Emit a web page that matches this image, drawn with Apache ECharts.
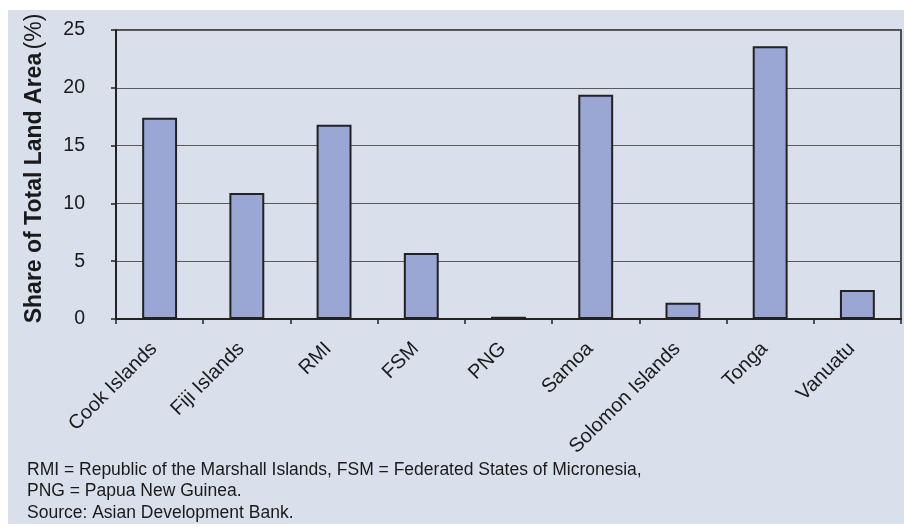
<!DOCTYPE html>
<html>
<head>
<meta charset="utf-8">
<script src="https://cdn.jsdelivr.net/npm/echarts@6/dist/echarts.min.js"></script>
<style>
  html, body { margin: 0; padding: 0; background: #ffffff; }
  #chart { width: 904px; height: 527px; }
</style>
</head>
<body>
<div id="chart"></div>
<script>
// Protected areas as a share of total land area, Pacific economies
const categories = ['Cook Islands', 'Fiji Islands', 'RMI', 'FSM', 'PNG', 'Samoa', 'Solomon Islands', 'Tonga', 'Vanuatu'];
const shareValues = [17.4, 10.9, 16.8, 5.7, 0.2, 19.4, 1.4, 23.6, 2.5];
const yTicks = [0, 5, 10, 15, 20, 25];
const footnoteLines = [
  'RMI = Republic of the Marshall Islands, FSM = Federated States of Micronesia,',
  'PNG = Papua New Guinea.',
  'Source: Asian Development Bank.'
];

const font = 'Arial, "Liberation Sans", Helvetica, sans-serif';
const chart = echarts.init(document.getElementById('chart'), null, { renderer: 'canvas' });

chart.setOption({
  backgroundColor: '#ffffff',
  animation: false,
  textStyle: { fontFamily: font },
  graphic: [
    {
      type: 'rect',
      z: -10,
      shape: { x: 8, y: 10, width: 896, height: 514 },
      style: { fill: '#d9dfeb' }
    },
    {
      type: 'text',
      left: 27,
      top: 459,
      style: {
        text: footnoteLines.join('\n'),
        font: '17.5px ' + font,
        lineHeight: 21.5,
        fill: '#1a1a1a'
      }
    }
  ],
  grid: {
    left: 116, top: 30, right: 3, bottom: 208,
    show: true,
    borderColor: '#222',
    borderWidth: 1.5,
    backgroundColor: 'transparent'
  },
  xAxis: {
    type: 'category',
    data: categories,
    axisLine: { lineStyle: { color: '#222', width: 2 } },
    axisTick: { show: true, length: 5, lineStyle: { color: '#222', width: 1.5 } },
    axisLabel: {
      interval: 0,
      rotate: 45,
      margin: 21,
      padding: [0, 8, 0, 0],
      fontSize: 20,
      color: '#1a1a1a',
      fontFamily: font
    }
  },
  yAxis: {
    type: 'value',
    min: yTicks[0],
    max: yTicks[yTicks.length - 1],
    interval: 5,
    name: '{b|Share of Total Land Area} {n|(%)}',
    nameLocation: 'middle',
    nameRotate: 90,
    nameGap: 70,
    nameTextStyle: {
      padding: [0, 0, 0, 12],
      rich: {
        b: { fontSize: 23, fontWeight: 'bold', color: '#1a1a1a', fontFamily: font },
        n: { fontSize: 23, fontWeight: 'normal', color: '#1a1a1a', fontFamily: font }
      }
    },
    axisLine: { show: true, lineStyle: { color: '#222', width: 2 } },
    axisTick: { show: true, length: 5, lineStyle: { color: '#222', width: 1.5 } },
    axisLabel: {
      fontSize: 19.5,
      color: '#1a1a1a',
      margin: 31,
      fontFamily: font,
      formatter: v => String(v)
    },
    splitLine: { show: true, lineStyle: { color: '#5a5a5a', width: 1.2 } }
  },
  series: [
    {
      type: 'bar',
      data: shareValues,
      barWidth: '40%',
      itemStyle: { color: '#9aa6d3', borderColor: '#222', borderWidth: 2 }
    }
  ]
});
</script>
</body>
</html>
